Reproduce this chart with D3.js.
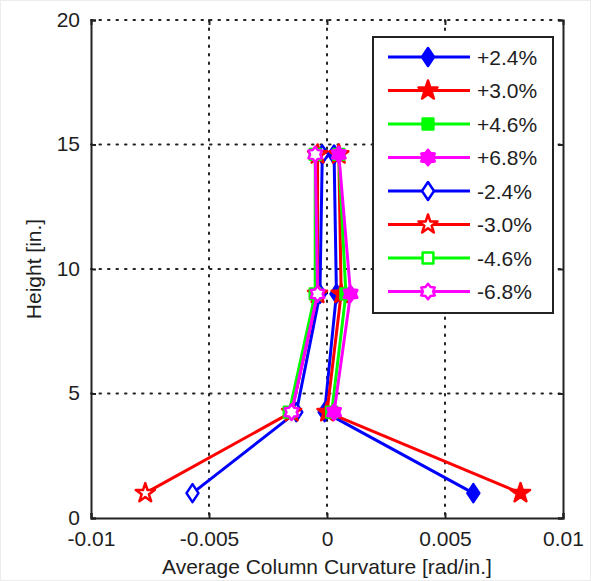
<!DOCTYPE html>
<html>
<head>
<meta charset="utf-8">
<script src="https://cdn.jsdelivr.net/npm/d3@7"></script>
<style>
  body { margin: 0; background: #fff; }
  svg { display: block; font-family: "Liberation Sans", Arial, sans-serif; }
</style>
</head>
<body>
<svg id="chart" width="591" height="581"></svg>
<script>
// heights [in.] where the curvature was measured
var heightsFull = [1.0, 4.25, 9.0, 14.6];
var heightsUpper = [4.25, 9.0, 14.6];

// average column curvature [rad/in.]
var pos24 = [0.0062, -0.0001, 0.0004, 0.0003];
var pos30 = [0.0082, 0.0000, 0.0006, 0.0005];
var pos46 = [0.0002, 0.0008, 0.0005];
var pos68 = [0.0003, 0.0010, 0.0005];
var neg24 = [-0.0057, -0.0013, -0.0003, -0.0002];
var neg30 = [-0.0077, -0.0015, -0.0004, -0.0004];
var neg46 = [-0.0016, -0.0005, -0.0005];
var neg68 = [-0.0015, -0.0004, -0.0005];

var seriesNames = ["+2.4%", "+3.0%", "+4.6%", "+6.8%", "-2.4%", "-3.0%", "-4.6%", "-6.8%"];
var xTicks = [-0.01, -0.005, 0, 0.005, 0.01];
var xTickLabels = ["-0.01", "-0.005", "0", "0.005", "0.01"];
var yTicks = [0, 5, 10, 15, 20];

var series = [
  { name: seriesNames[0], x: pos24, h: heightsFull, color: "#0000ff", marker: "diamond", filled: true },
  { name: seriesNames[1], x: pos30, h: heightsFull, color: "#ff0000", marker: "star", filled: true },
  { name: seriesNames[2], x: pos46, h: heightsUpper, color: "#00ff00", marker: "square", filled: true },
  { name: seriesNames[3], x: pos68, h: heightsUpper, color: "#ff00ff", marker: "hexagram", filled: true },
  { name: seriesNames[4], x: neg24, h: heightsFull, color: "#0000ff", marker: "diamond", filled: false },
  { name: seriesNames[5], x: neg30, h: heightsFull, color: "#ff0000", marker: "star", filled: false },
  { name: seriesNames[6], x: neg46, h: heightsUpper, color: "#00ff00", marker: "square", filled: false },
  { name: seriesNames[7], x: neg68, h: heightsUpper, color: "#ff00ff", marker: "hexagram", filled: false }
];

var svg = d3.select("#chart");
var margin = { top: 20, right: 28, bottom: 63, left: 91 };
var width = 591 - margin.left - margin.right;
var height = 581 - margin.top - margin.bottom;
var textColor = "#1e1e1e";

// faint frame round the picture
svg.append("rect")
  .attr("x", 0.5).attr("y", 0.5)
  .attr("width", 590).attr("height", 580)
  .attr("fill", "#fff").attr("stroke", "#ececec");

var g = svg.append("g").attr("transform", "translate(" + margin.left + "," + margin.top + ")");

var x = d3.scaleLinear().domain([-0.01, 0.01]).range([0, width]);
var y = d3.scaleLinear().domain([0, 20]).range([height, 0]);

// marker paths, centred on 0,0
function markerPath(type, s) {
  if (type === "diamond") {
    return "M0," + (-s * 0.6) + "L" + (s * 0.4) + ",0L0," + (s * 0.6) + "L" + (-s * 0.4) + ",0Z";
  }
  if (type === "square") {
    var a = s * 0.36;
    return "M" + (-a) + "," + (-a) + "H" + a + "V" + a + "H" + (-a) + "Z";
  }
  if (type === "star") {
    return d3.symbol(d3.symbolStar, s * s * 0.5)();
  }
  // six-pointed star
  var pts = [];
  for (var i = 0; i < 12; i++) {
    var r = i % 2 === 0 ? s * 0.52 : s * 0.34;
    var ang = Math.PI / 6 * i - Math.PI / 2;
    pts.push([r * Math.cos(ang), r * Math.sin(ang)]);
  }
  return "M" + pts.map(function (p) { return p.join(","); }).join("L") + "Z";
}

// grid (dotted)
var grid = g.append("g").attr("stroke", "#222").attr("stroke-width", 2)
  .attr("stroke-dasharray", "1.5,7").attr("stroke-linecap", "round");
xTicks.slice(1, -1).forEach(function (t) {
  grid.append("line").attr("x1", x(t)).attr("x2", x(t)).attr("y1", 0).attr("y2", height);
});
yTicks.slice(1).forEach(function (t) {
  grid.append("line").attr("x1", 0).attr("x2", width).attr("y1", y(t)).attr("y2", y(t));
});

// axes
var xAxis = g.append("g").attr("transform", "translate(0," + height + ")")
  .call(d3.axisBottom(x).tickValues(xTicks).tickSize(-5).tickPadding(10)
    .tickFormat(function (d, i) { return xTickLabels[i]; }));
var yAxis = g.append("g")
  .call(d3.axisLeft(y).tickValues(yTicks).tickSize(-5).tickPadding(11));
var xTop = g.append("g")
  .call(d3.axisTop(x).tickValues(xTicks).tickSize(-5).tickFormat(""));
var yRight = g.append("g").attr("transform", "translate(" + width + ",0)")
  .call(d3.axisRight(y).tickValues(yTicks).tickSize(-5).tickFormat(""));

[xAxis, yAxis, xTop, yRight].forEach(function (a) {
  a.selectAll("path").attr("stroke", "#222").attr("stroke-width", 2);
  a.selectAll(".tick line").attr("stroke", "#222").attr("stroke-width", 2);
  a.selectAll("text").attr("fill", textColor).style("font-size", "21px");
});
xTop.select("path").remove();
xAxis.selectAll("text").attr("dy", "0.85em");
yAxis.selectAll("text").attr("dy", "0.3em");

// axis titles
svg.append("text")
  .attr("x", margin.left + x(0)).attr("y", 574)
  .attr("text-anchor", "middle").attr("fill", textColor).style("font-size", "21px")
  .text("Average Column Curvature [rad/in.]");
svg.append("text")
  .attr("transform", "translate(41," + (margin.top + height / 2) + ") rotate(-90)")
  .attr("text-anchor", "middle").attr("fill", textColor).style("font-size", "21px")
  .text("Height [in.]");

// data lines and markers
var line = d3.line().x(function (d) { return x(d[0]); }).y(function (d) { return y(d[1]); });

series.forEach(function (s) {
  var pts = s.x.map(function (v, i) { return [v, s.h[i]]; });
  var sg = g.append("g");
  sg.append("path").datum(pts)
    .attr("d", line).attr("fill", "none")
    .attr("stroke", s.color).attr("stroke-width", 3).attr("stroke-linejoin", "round");
  sg.selectAll("path.mk").data(pts).enter().append("path")
    .attr("class", "mk")
    .attr("transform", function (d) { return "translate(" + x(d[0]) + "," + y(d[1]) + ")"; })
    .attr("d", markerPath(s.marker, 15))
    .attr("fill", s.filled ? s.color : "#fff")
    .attr("stroke", s.color).attr("stroke-width", 2.5).attr("stroke-linejoin", "round");
});

// legend
var legend = svg.append("g").attr("transform", "translate(373,37)");
legend.append("rect")
  .attr("width", 180).attr("height", 276)
  .attr("fill", "#fff").attr("stroke", "#222").attr("stroke-width", 2);
var rowStep = 33.5;
series.forEach(function (s, i) {
  var row = legend.append("g").attr("transform", "translate(0," + (20 + i * rowStep) + ")");
  row.append("line").attr("x1", 15).attr("x2", 97).attr("y1", 0).attr("y2", 0)
    .attr("stroke", s.color).attr("stroke-width", 3);
  row.append("path").attr("transform", "translate(55,0)")
    .attr("d", markerPath(s.marker, 15))
    .attr("fill", s.filled ? s.color : "#fff")
    .attr("stroke", s.color).attr("stroke-width", 2.5).attr("stroke-linejoin", "round");
  row.append("text").attr("x", 104).attr("y", 0).attr("dy", "0.36em")
    .attr("fill", textColor).style("font-size", "21px").text(s.name);
});
</script>
</body>
</html>
